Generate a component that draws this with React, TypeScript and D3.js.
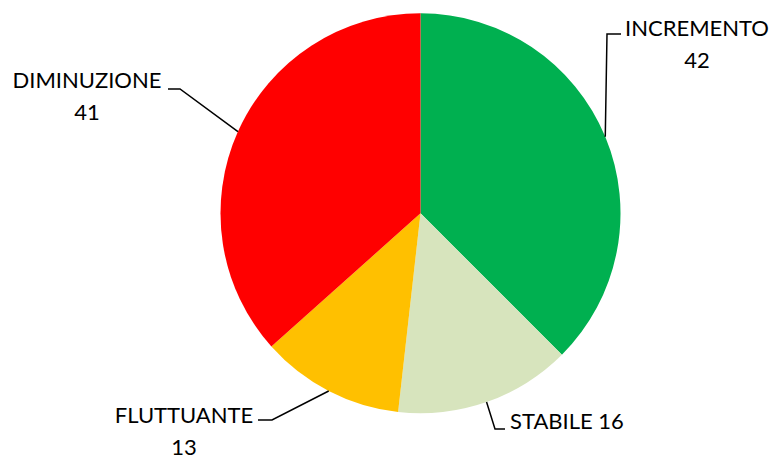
import React from "react";
import * as d3 from "d3";

const categories = ["INCREMENTO", "STABILE", "FLUTTUANTE", "DIMINUZIONE"];
const values = [42, 16, 13, 41];
const colors = ["#00B050", "#D7E4BD", "#FFC000", "#FF0000"];

// label layout: elbow point, line end, text anchor position
const labelLayout = [
  { elbow: [607, 34], end: [621, 34], tx: 697, ty: 36, anchor: "middle", twoLines: true },
  { elbow: [495, 429], end: [505, 429], tx: 510, ty: 429, anchor: "start", twoLines: false },
  { elbow: [272, 420], end: [258, 420], tx: 184, ty: 423, anchor: "middle", twoLines: true },
  { elbow: [180, 89], end: [168, 89], tx: 87, ty: 88, anchor: "middle", twoLines: true },
];

const W = 773;
const H = 456;
const cx = 420.5;
const cy = 213.3;
const R = 200;
const FONT = "Lato, 'Open Sans', sans-serif";
const FS = 22;
const LH = 32;

export default function App() {
  const pie = d3.pie<number>().sort(null).value((d) => d)(values);
  const arc = d3.arc<d3.PieArcDatum<number>>().innerRadius(0).outerRadius(R);
  const edge = d3.arc<d3.PieArcDatum<number>>().innerRadius(R).outerRadius(R);

  return (
    <div style={{ position: "absolute", left: 0, top: 0 }}>
      <svg width={W} height={H} style={{ display: "block", background: "#fff" }}>
        <g transform={`translate(${cx},${cy})`}>
          {pie.map((p, i) => (
            <path key={i} d={arc(p) || ""} fill={colors[i]} />
          ))}
        </g>
        {pie.map((p, i) => {
          const c = edge.centroid(p);
          const L = labelLayout[i];
          const pts = [[cx + c[0], cy + c[1]], L.elbow, L.end];
          return (
            <path
              key={"l" + i}
              d={d3.line()(pts as [number, number][]) || ""}
              fill="none"
              stroke="#000"
              strokeWidth={1.5}
            />
          );
        })}
        {pie.map((p, i) => {
          const L = labelLayout[i];
          return (
            <text
              key={"t" + i}
              x={L.tx}
              y={L.ty}
              textAnchor={L.anchor as any}
              fontFamily={FONT}
              fontSize={FS}
              fill="#000"
            >
              {L.twoLines ? (
                <>
                  <tspan x={L.tx}>{categories[i]}</tspan>
                  <tspan x={L.tx} dy={LH}>{values[i]}</tspan>
                </>
              ) : (
                `${categories[i]} ${values[i]}`
              )}
            </text>
          );
        })}
      </svg>
    </div>
  );
}
